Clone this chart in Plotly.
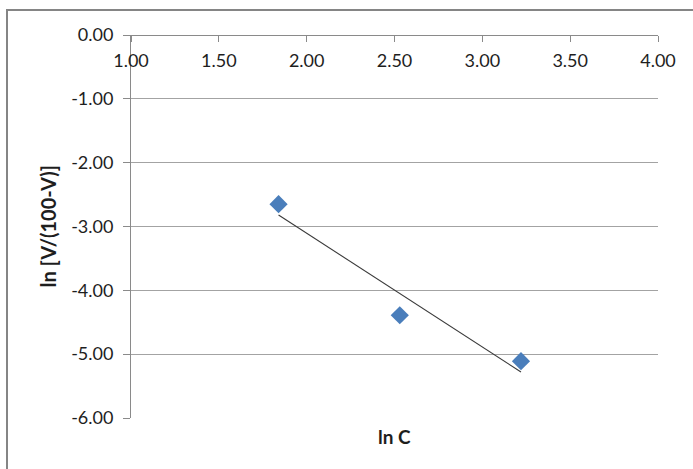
import numpy as np
import plotly.graph_objects as go

# ln C values and the corresponding ln [V/(100-V)]
ln_c = [1.84, 2.53, 3.22]
ln_ratio = [-2.65, -4.39, -5.11]

x_ticks = [1.0, 1.5, 2.0, 2.5, 3.0, 3.5, 4.0]
y_ticks = [0, -1, -2, -3, -4, -5, -6]

# least-squares trendline over the measured points
slope, intercept = np.polyfit(ln_c, ln_ratio, 1)
fit_x = [min(ln_c), max(ln_c)]
fit_y = [slope * v + intercept for v in fit_x]

W, H = 693, 469
ML, MR, MT, MB = 131, 35, 35, 51
PW, PH = W - ML - MR, H - MT - MB

def px_to_paper_x(px):
    return (px - ML) / PW

def px_to_paper_y(py):
    return (H - MB - py) / PH

FONT = "Lato"
TXT = "#1e1e1e"
GRID = "#a3a3a3"
AXIS = "#8a8a8a"

fig = go.Figure()
fig.add_trace(go.Scatter(
    x=ln_c, y=ln_ratio, mode="markers",
    marker=dict(symbol="diamond", size=14, color="#4a7ebb",
                line=dict(width=0)),
    showlegend=False, hoverinfo="skip",
))
fig.add_trace(go.Scatter(
    x=fit_x, y=fit_y, mode="lines",
    line=dict(color="#3a3a3a", width=1.1),
    showlegend=False, hoverinfo="skip",
))

fig.update_layout(
    width=W, height=H,
    margin=dict(l=ML, r=MR, t=MT, b=MB, pad=0),
    paper_bgcolor="white", plot_bgcolor="white",
    font=dict(family=FONT, size=18, color=TXT),
    xaxis=dict(
        range=[1, 4], tickvals=x_ticks, ticktext=[f"{v:.2f}" for v in x_ticks],
        anchor="free", position=1, side="bottom",
        showline=True, linecolor=AXIS, linewidth=1,
        ticks="outside", ticklen=6, tickcolor=AXIS, tickwidth=1,
        showgrid=False, zeroline=False,
        tickfont=dict(family=FONT, size=18, color=TXT),
        ticklabelstandoff=3,
    ),
    yaxis=dict(
        range=[-6, 0], tickvals=y_ticks, ticktext=[f"{v:.2f}" for v in y_ticks],
        showline=True, linecolor=AXIS, linewidth=1,
        ticks="outside", ticklen=7, tickcolor=AXIS, tickwidth=1,
        showgrid=True, gridcolor=GRID, gridwidth=1, zeroline=False,
        tickfont=dict(family=FONT, size=18, color=TXT),
        ticklabelstandoff=6,
    ),
    annotations=[
        dict(text="<b>ln C</b>", xref="paper", yref="paper",
             x=0.5, y=px_to_paper_y(436), xanchor="center", yanchor="middle",
             showarrow=False, font=dict(family=FONT, size=19, color=TXT)),
        dict(text="<b>ln [V/(100-V)]</b>", xref="paper", yref="paper",
             x=px_to_paper_x(47), y=0.5, xanchor="center", yanchor="middle",
             textangle=-90, showarrow=False,
             font=dict(family=FONT, size=20, color=TXT)),
    ],
    shapes=[
        # chart frame: left and top edges
        dict(type="path", xref="paper", yref="paper",
             path=(f"M {px_to_paper_x(7)} {px_to_paper_y(H + 5)} "
                   f"L {px_to_paper_x(7)} {px_to_paper_y(10)} "
                   f"L {px_to_paper_x(W + 5)} {px_to_paper_y(10)}"),
             line=dict(color="#858585", width=2)),
    ],
)

fig.write_html("out.html")
